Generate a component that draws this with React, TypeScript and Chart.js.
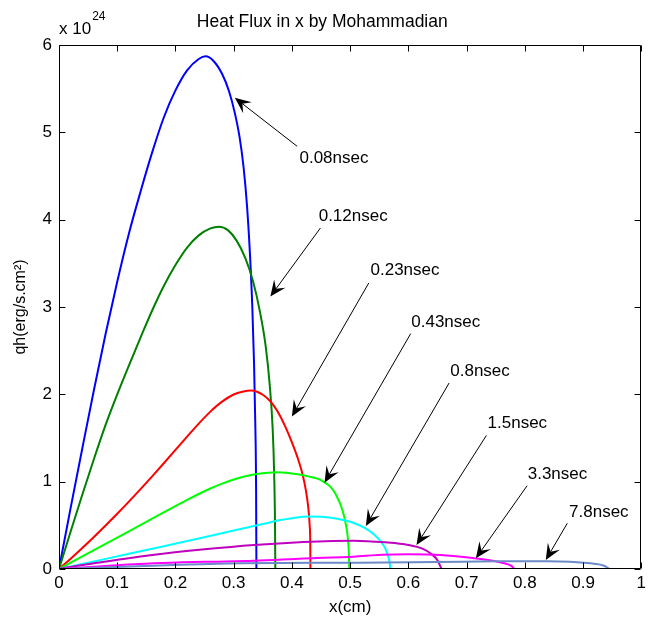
import React, { useEffect, useRef } from "react";
import { Chart, registerables } from "chart.js";

Chart.register(...registerables);

// ---- Data (y in units of 10^24 erg/s.cm^2) ----
const seriesLabels = ["0.08nsec", "0.12nsec", "0.23nsec", "0.43nsec", "0.8nsec", "1.5nsec", "3.3nsec", "7.8nsec"];

const x008 = [0, 0.02, 0.04, 0.06, 0.08, 0.1, 0.12, 0.14, 0.16, 0.18, 0.2, 0.22, 0.24, 0.252, 0.265, 0.28, 0.292, 0.302, 0.31, 0.317, 0.323, 0.328, 0.332, 0.335, 0.337, 0.3385, 0.339];
const y008 = [0, 0.7, 1.38, 2.05, 2.69, 3.29, 3.84, 4.32, 4.77, 5.17, 5.48, 5.71, 5.84, 5.87, 5.82, 5.67, 5.47, 5.22, 4.95, 4.6, 4.15, 3.6, 3.0, 2.35, 1.7, 0.9, 0];

const x012 = [0, 0.02, 0.04, 0.06, 0.08, 0.1, 0.12, 0.14, 0.16, 0.18, 0.2, 0.22, 0.24, 0.26, 0.275, 0.29, 0.305, 0.32, 0.333, 0.345, 0.355, 0.362, 0.367, 0.3695, 0.371, 0.3715];
const y012 = [0, 0.43, 0.85, 1.26, 1.65, 2.0, 2.33, 2.65, 2.96, 3.24, 3.48, 3.68, 3.82, 3.9, 3.92, 3.88, 3.76, 3.56, 3.3, 2.95, 2.55, 2.1, 1.6, 1.1, 0.5, 0];

const x023 = [0, 0.02, 0.04, 0.06, 0.08, 0.1, 0.12, 0.14, 0.16, 0.18, 0.2, 0.22, 0.24, 0.26, 0.28, 0.3, 0.315, 0.33, 0.34, 0.35, 0.36, 0.37, 0.38, 0.39, 0.4, 0.41, 0.418, 0.424, 0.428, 0.4305, 0.4315, 0.4318];
const y023 = [0, 0.118, 0.241, 0.367, 0.498, 0.632, 0.771, 0.914, 1.061, 1.211, 1.363, 1.516, 1.665, 1.802, 1.916, 1.998, 2.03, 2.043, 2.03, 1.995, 1.94, 1.86, 1.75, 1.61, 1.45, 1.27, 1.09, 0.9, 0.71, 0.5, 0.3, 0];

const x043 = [0, 0.04, 0.08, 0.12, 0.16, 0.2, 0.22, 0.24, 0.26, 0.28, 0.3, 0.32, 0.34, 0.36, 0.375, 0.39, 0.41, 0.43, 0.445, 0.452, 0.46, 0.467, 0.474, 0.48, 0.485, 0.489, 0.492, 0.4945, 0.4965, 0.4978, 0.4985];
const y043 = [0, 0.144, 0.288, 0.432, 0.576, 0.72, 0.791, 0.859, 0.922, 0.978, 1.025, 1.062, 1.088, 1.103, 1.108, 1.103, 1.085, 1.058, 1.032, 1.01, 0.975, 0.935, 0.87, 0.79, 0.71, 0.62, 0.53, 0.44, 0.32, 0.18, 0];

const x08 = [0, 0.06, 0.12, 0.18, 0.24, 0.3, 0.35, 0.38, 0.405, 0.43, 0.455, 0.48, 0.505, 0.525, 0.54, 0.552, 0.56, 0.565, 0.568, 0.569];
const y08 = [0, 0.085, 0.175, 0.26, 0.35, 0.44, 0.515, 0.56, 0.588, 0.6, 0.595, 0.572, 0.53, 0.47, 0.4, 0.32, 0.24, 0.15, 0.07, 0];

const x15 = [0, 0.06, 0.16, 0.25, 0.335, 0.42, 0.47, 0.506, 0.56, 0.6, 0.625, 0.64, 0.65, 0.657];
const y15 = [0, 0.065, 0.16, 0.225, 0.275, 0.31, 0.322, 0.324, 0.305, 0.275, 0.23, 0.17, 0.1, 0];

const x33 = [0, 0.08, 0.164, 0.25, 0.335, 0.42, 0.506, 0.554, 0.6, 0.656, 0.713, 0.74, 0.765, 0.778, 0.782];
const y33 = [0, 0.035, 0.065, 0.082, 0.095, 0.12, 0.141, 0.162, 0.168, 0.16, 0.123, 0.1, 0.065, 0.03, 0];

const x78 = [0, 0.147, 0.312, 0.514, 0.65, 0.75, 0.839, 0.913, 0.935, 0.941, 0.945];
const y78 = [0, 0.034, 0.065, 0.072, 0.08, 0.088, 0.09, 0.065, 0.04, 0.02, 0];

const seriesX = [x008, x012, x023, x043, x08, x15, x33, x78];
const seriesY = [y008, y012, y023, y043, y08, y15, y33, y78];

// Annotation anchor points (data coordinates)
const labelX = [0.413, 0.446, 0.535, 0.605, 0.672, 0.736, 0.805, 0.876];
const labelY = [4.70, 4.04, 3.415, 2.83, 2.258, 1.673, 1.089, 0.648];
const tailX = [0.409, 0.449, 0.532, 0.604, 0.670, 0.734, 0.804, 0.873];
const tailY = [4.84, 3.905, 3.275, 2.695, 2.13, 1.529, 0.954, 0.524];
const tipX = [0.302, 0.363, 0.400, 0.456, 0.527, 0.614, 0.716, 0.836];
const tipY = [5.395, 3.12, 1.745, 0.989, 0.493, 0.275, 0.123, 0.103];

const xTickValues = [0, 0.1, 0.2, 0.3, 0.4, 0.5, 0.6, 0.7, 0.8, 0.9, 1];
const yTickValues = [0, 1, 2, 3, 4, 5, 6];

const titleText = "Heat Flux in x by Mohammadian";
const xAxisLabel = "x(cm)";
const yAxisLabel = "qh(erg/s.cm\u00B2)";
const exponentBase = "x 10";
const exponentPower = "24";

// ---- Styles ----
const colors = ["#0000FF", "#008000", "#FF0000", "#00FF00", "#00FFFF", "#BF00BF", "#FF00FF", "#6A8AC8"];
const FONT = "'Liberation Sans', Arial, sans-serif";

const framePlugin = {
  id: "matlabFrame",
  afterDatasetsDraw(chart: any) {
    const { ctx, chartArea: a, scales } = chart;
    const xs = scales.x;
    const ys = scales.y;
    ctx.save();
    ctx.strokeStyle = "#000";
    ctx.lineWidth = 1;
    ctx.beginPath();
    const L = Math.round(a.left) + 0.5;
    const R = Math.round(a.right) - 0.5;
    const T = Math.round(a.top) + 0.5;
    const B = Math.round(a.bottom) - 0.5;
    ctx.rect(L, T, R - L, B - T);
    const tl = 6;
    xTickValues.forEach((v) => {
      const px = Math.round(xs.getPixelForValue(v)) + 0.5;
      ctx.moveTo(px, B);
      ctx.lineTo(px, B - tl);
      ctx.moveTo(px, T);
      ctx.lineTo(px, T + tl);
    });
    yTickValues.forEach((v) => {
      const py = Math.round(ys.getPixelForValue(v)) + 0.5;
      ctx.moveTo(L, py);
      ctx.lineTo(L + tl, py);
      ctx.moveTo(R, py);
      ctx.lineTo(R - tl, py);
    });
    ctx.stroke();

    // annotations
    ctx.fillStyle = "#000";
    ctx.font = "17px " + FONT;
    ctx.textAlign = "left";
    ctx.textBaseline = "middle";
    for (let i = 0; i < seriesLabels.length; i++) {
      const tx = xs.getPixelForValue(tipX[i]);
      const ty = ys.getPixelForValue(tipY[i]);
      const sx = xs.getPixelForValue(tailX[i]);
      const sy = ys.getPixelForValue(tailY[i]);
      const dx = tx - sx;
      const dy = ty - sy;
      const len = Math.hypot(dx, dy);
      const ux = dx / len;
      const uy = dy / len;
      const nx = -uy;
      const ny = ux;
      const HL = 16;
      const HW = 7;
      const notch = 0.6 * HL;
      ctx.beginPath();
      ctx.lineWidth = 1;
      ctx.moveTo(sx, sy);
      ctx.lineTo(tx - ux * notch, ty - uy * notch);
      ctx.stroke();
      ctx.beginPath();
      ctx.moveTo(tx, ty);
      ctx.lineTo(tx - ux * HL + nx * HW, ty - uy * HL + ny * HW);
      ctx.lineTo(tx - ux * notch, ty - uy * notch);
      ctx.lineTo(tx - ux * HL - nx * HW, ty - uy * HL - ny * HW);
      ctx.closePath();
      ctx.fill();
      ctx.fillText(seriesLabels[i], xs.getPixelForValue(labelX[i]), ys.getPixelForValue(labelY[i]));
    }

    // exponent label
    ctx.font = "17px " + FONT;
    ctx.textBaseline = "middle";
    ctx.fillText(exponentBase, a.left, 29);
    const w = ctx.measureText(exponentBase).width;
    ctx.font = "12px " + FONT;
    ctx.fillText(exponentPower, a.left + w + 1, 17);
    ctx.restore();
  },
};

export default function App() {
  const canvasRef = useRef<HTMLCanvasElement | null>(null);

  useEffect(() => {
    const canvas = canvasRef.current;
    if (!canvas) return;
    const datasets = seriesLabels.map((label, i) => ({
      label,
      data: seriesX[i].map((xv, j) => ({ x: xv, y: seriesY[i][j] })),
      showLine: true,
      borderColor: colors[i],
      backgroundColor: colors[i],
      borderWidth: 2,
      pointRadius: 0,
      cubicInterpolationMode: "monotone" as const,
      order: seriesLabels.length - i,
    }));
    const chart = new Chart(canvas, {
      type: "scatter",
      data: { datasets },
      options: {
        animation: false,
        responsive: false,
        devicePixelRatio: 1,
        layout: { padding: { left: 0, right: 5.5, top: 0, bottom: 0 } },
        plugins: {
          legend: { display: false },
          tooltip: { enabled: false },
          title: {
            display: true,
            text: titleText,
            color: "#000",
            font: { family: FONT, size: 17.5, weight: "normal" },
            padding: { top: 11.5, bottom: 12.5 },
          },
        },
        scales: {
          x: {
            type: "linear",
            min: 0,
            max: 1,
            afterBuildTicks: (s: any) => {
              s.ticks = xTickValues.map((v) => ({ value: v }));
            },
            afterFit: (s: any) => {
              s.height = 61;
            },
            ticks: {
              color: "#000",
              font: { family: FONT, size: 17 },
              padding: 4,
              maxRotation: 0,
              autoSkip: false,
              callback: (v: any) => String(Number(Number(v).toFixed(1))),
            },
            grid: { display: false, drawTicks: false },
            border: { display: false },
            title: {
              display: true,
              text: xAxisLabel,
              color: "#000",
              font: { family: FONT, size: 17 },
              padding: { top: 0, bottom: 12 },
            },
          },
          y: {
            type: "linear",
            min: 0,
            max: 6,
            afterBuildTicks: (s: any) => {
              s.ticks = yTickValues.map((v) => ({ value: v }));
            },
            afterFit: (s: any) => {
              s.width = 59;
            },
            ticks: {
              color: "#000",
              font: { family: FONT, size: 17 },
              padding: 7,
              autoSkip: false,
              callback: (v: any) => String(v),
            },
            grid: { display: false, drawTicks: false },
            border: { display: false },
            title: {
              display: true,
              text: yAxisLabel,
              color: "#000",
              font: { family: FONT, size: 16 },
              padding: { top: 11, bottom: 0 },
            },
          },
        },
      },
      plugins: [framePlugin],
    });
    return () => chart.destroy();
  }, []);

  return (
    <div style={{ position: "fixed", left: 0, top: 0, width: 650, height: 630, background: "#fff" }}>
      <canvas ref={canvasRef} width={650} height={630} style={{ display: "block", width: 650, height: 630 }} />
    </div>
  );
}
